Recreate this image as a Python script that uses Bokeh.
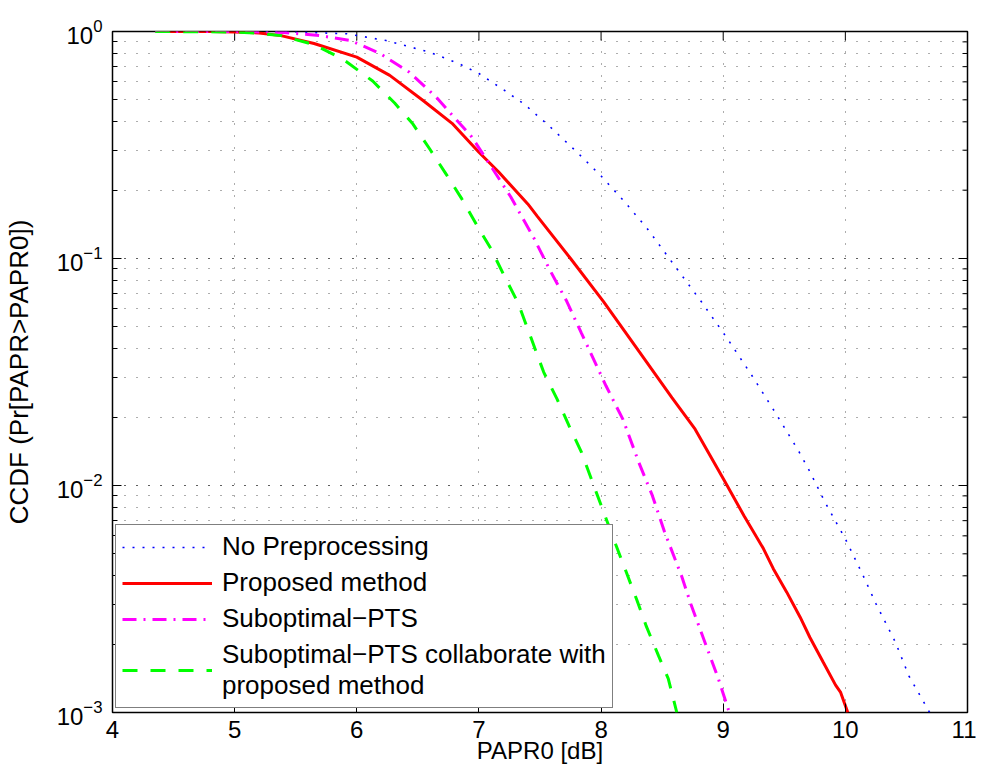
import math
from bokeh.plotting import figure
from bokeh.models import FixedTicker
from bokeh.embed import file_html
from bokeh.resources import INLINE

# ---- data ----
x_none = [4.35, 5.0, 5.5, 5.92, 6.24, 6.59, 6.83, 7.0, 7.21, 7.37, 7.57, 7.80, 8.0, 8.2, 8.38,
          8.6, 8.82, 9.03, 9.24, 9.44, 9.62, 9.71, 9.83, 10.0, 10.14, 10.25, 10.41, 10.52, 10.69]
y_none = [1.0, 1.0, 0.995, 0.977, 0.912, 0.813, 0.724, 0.653, 0.550, 0.479, 0.386, 0.295, 0.231,
          0.176, 0.135, 0.0933, 0.0646, 0.0447, 0.0302, 0.0204, 0.0141, 0.0115, 0.00851, 0.00582,
          0.00407, 0.00302, 0.00204, 0.00145, 0.001]

x_prop = [4.35, 4.8, 5.0, 5.2, 5.38, 5.65, 6.0, 6.27, 6.54, 6.78, 7.0, 7.16, 7.40, 7.48, 7.75,
          8.02, 8.28, 8.58, 8.77, 9.01, 9.17, 9.33, 9.41, 9.52, 9.63, 9.71, 9.82, 9.92, 9.96, 10.02]
y_prop = [1.0, 1.0, 0.995, 0.986, 0.959, 0.885, 0.771, 0.641, 0.498, 0.394, 0.294, 0.241, 0.174,
          0.153, 0.100, 0.0646, 0.0411, 0.0244, 0.0177, 0.0105, 0.00736, 0.00526, 0.00430,
          0.00339, 0.00263, 0.00214, 0.00166, 0.00132, 0.00123, 0.001]

x_pts = [4.35, 5.0, 5.4, 5.70, 5.95, 6.19, 6.43, 6.65, 6.83, 6.94, 7.10, 7.26, 7.45, 7.58, 7.72,
         7.84, 7.99, 8.04, 8.18, 8.31, 8.42, 8.52, 8.66, 8.74, 8.85, 8.96, 9.05]
y_pts = [1.0, 1.0, 0.991, 0.959, 0.912, 0.800, 0.662, 0.514, 0.400, 0.344, 0.254, 0.187, 0.123,
         0.0891, 0.0646, 0.0468, 0.0314, 0.0275, 0.0195, 0.0126, 0.00902, 0.00624, 0.00398,
         0.00295, 0.00204, 0.00141, 0.001]

x_collab = [4.35, 5.0, 5.2, 5.38, 5.65, 5.89, 6.13, 6.31, 6.46, 6.60, 6.73, 6.86, 6.99, 7.10, 7.21,
            7.32, 7.42, 7.53, 7.64, 7.74, 7.84, 7.94, 8.12, 8.29, 8.37, 8.47, 8.55, 8.62]
y_collab = [1.0, 0.995, 0.982, 0.959, 0.875, 0.753, 0.605, 0.484, 0.391, 0.302, 0.236, 0.183,
            0.138, 0.110, 0.0832, 0.0638, 0.0457, 0.0316, 0.0240, 0.0182, 0.0140, 0.0100, 0.00550,
            0.00316, 0.00240, 0.00178, 0.00141, 0.001]

x_ticks = [4, 5, 6, 7, 8, 9, 10, 11]
y_decades = [-3, -2, -1, 0]
labels = ["No Preprocessing", "Proposed method", "Suboptimal\u2212PTS",
          "Suboptimal\u2212PTS collaborate with\nproposed method"]
x_title = "PAPR0 [dB]"
y_title = "CCDF (Pr[PAPR>PAPR0])"

X_MIN, X_MAX = x_ticks[0], x_ticks[-1]
Y_MIN, Y_MAX = 10.0 ** y_decades[0], 10.0 ** y_decades[-1]
y_major = [10.0 ** e for e in y_decades]
y_minor = [k * 10.0 ** e for e in y_decades[:-1] for k in range(2, 10)]

FONT = "Liberation Sans"
TICK_FS = "24px"
LABEL_FS = "24px"
YLABEL_FS = "26px"
LEGEND_FS = "26px"

p = figure(width=976, height=767, x_range=(X_MIN, X_MAX), y_range=(Y_MIN, Y_MAX),
           y_axis_type="log", output_backend="svg", toolbar_location=None,
           min_border_left=99, min_border_top=31, min_border_right=9, min_border_bottom=55,
           background_fill_color="white", border_fill_color="white")

p.outline_line_color = "black"
p.outline_line_width = 1.5

# grids
grid_col = "#333333"
p.xgrid.ticker = FixedTicker(ticks=x_ticks)
p.xgrid.grid_line_color = grid_col
p.xgrid.grid_line_dash = "1 11"
p.xgrid.grid_line_width = 1
p.xgrid.grid_line_alpha = 0.8
p.ygrid.grid_line_color = grid_col
p.ygrid.grid_line_dash = "1 11"
p.ygrid.grid_line_alpha = 0.8
p.ygrid.minor_grid_line_color = grid_col
p.ygrid.minor_grid_line_dash = "1 11"
p.ygrid.minor_grid_line_alpha = 0.8

# axes
xa = p.xaxis[0]
xa.ticker = FixedTicker(ticks=x_ticks)
ya = p.yaxis[0]
for ax in (xa, ya):
    ax.axis_line_color = None
    ax.major_tick_in = 9
    ax.major_tick_out = 0
    ax.minor_tick_in = 5
    ax.minor_tick_out = 0
    ax.major_tick_line_color = "black"
    ax.minor_tick_line_color = "black"
    ax.major_tick_line_width = 1
    ax.major_label_text_font = FONT
    ax.major_label_text_font_size = TICK_FS
    ax.major_label_text_color = "black"
    ax.axis_label_text_font = FONT
    ax.axis_label_text_font_style = "normal"
    ax.axis_label_text_color = "black"
xa.minor_tick_line_color = None
xa.major_label_standoff = 8
xa.axis_label = x_title
xa.axis_label_text_font_size = LABEL_FS
xa.axis_label_standoff = -4
ya.major_label_standoff = 10
ya.axis_label = y_title
ya.axis_label_text_font_size = YLABEL_FS
ya.axis_label_standoff = 20

# inward ticks on the top and right edges of the box (half of each dash is clipped by the frame)
p.scatter(x_ticks, [Y_MAX] * len(x_ticks), marker="dash", size=18, angle=math.pi / 2,
          line_color="black", line_width=1)
p.scatter([X_MAX] * len(y_major), y_major, marker="dash", size=18,
          line_color="black", line_width=1)
p.scatter([X_MAX] * len(y_minor), y_minor, marker="dash", size=10,
          line_color="black", line_width=1)

# curves
p.line(x_none, y_none, line_color="#0000ff", line_width=1.6, line_dash="2 8",
       legend_label=labels[0])
p.line(x_prop, y_prop, line_color="#ff0000", line_width=3, legend_label=labels[1])
p.line(x_pts, y_pts, line_color="#ff00ff", line_width=3, line_dash="14 7 2 7",
       legend_label=labels[2])
p.line(x_collab, y_collab, line_color="#00ff00", line_width=3, line_dash="15 13",
       legend_label=labels[3])

lg = p.legend[0]
lg.location = (3, 4)
lg.border_line_color = "black"
lg.border_line_width = 1
lg.background_fill_color = "white"
lg.background_fill_alpha = 1
lg.label_text_font = FONT
lg.label_text_font_size = LEGEND_FS
lg.label_text_color = "black"
lg.glyph_width = 90
lg.glyph_height = 30
lg.label_height = 30
lg.label_standoff = 10
lg.spacing = 5
lg.padding = 6
lg.margin = 0

open("out.html", "w").write(file_html(p, INLINE))
